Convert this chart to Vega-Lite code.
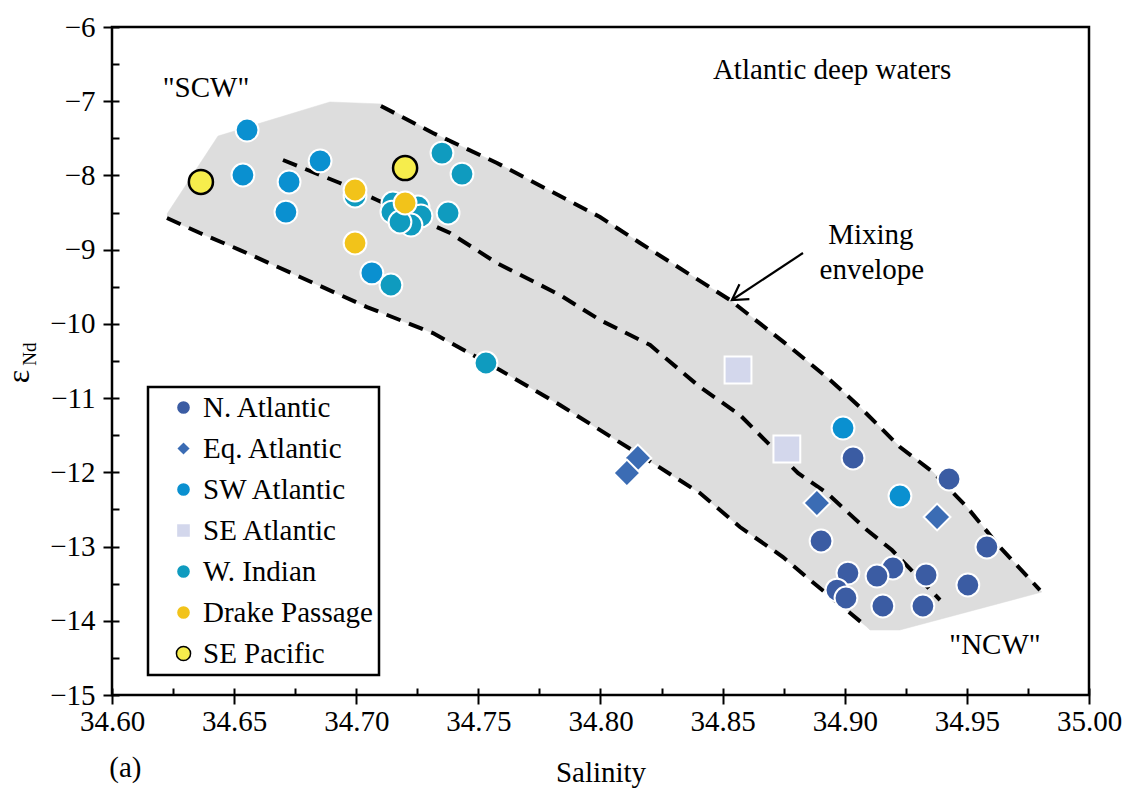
{
  "$schema": "https://vega.github.io/schema/vega-lite/v6.json",
  "width": 977,
  "height": 668,
  "autosize": {"type": "none"},
  "padding": {"left": 112, "top": 27, "right": 40, "bottom": 95},
  "background": "white",
  "config": {
    "view": {"stroke": "black", "strokeWidth": 2.5},
    "font": "Liberation Serif",
    "axis": {"labelFont": "Liberation Serif", "titleFont": "Liberation Serif"},
    "legend": {"strokeWidth": 2.5, "labelFont": "Liberation Serif"}
  },
  "datasets": {
    "points": [
      {"region": "N. Atlantic", "x": 34.9034, "y": -11.807},
      {"region": "N. Atlantic", "x": 34.9427, "y": -12.090},
      {"region": "N. Atlantic", "x": 34.8903, "y": -12.925},
      {"region": "N. Atlantic", "x": 34.9582, "y": -13.006},
      {"region": "N. Atlantic", "x": 34.9013, "y": -13.357},
      {"region": "N. Atlantic", "x": 34.9197, "y": -13.289},
      {"region": "N. Atlantic", "x": 34.9132, "y": -13.397},
      {"region": "N. Atlantic", "x": 34.9333, "y": -13.383},
      {"region": "N. Atlantic", "x": 34.9504, "y": -13.518},
      {"region": "N. Atlantic", "x": 34.8968, "y": -13.586},
      {"region": "N. Atlantic", "x": 34.9005, "y": -13.693},
      {"region": "N. Atlantic", "x": 34.9156, "y": -13.801},
      {"region": "N. Atlantic", "x": 34.9320, "y": -13.801},
      {"region": "Eq. Atlantic", "x": 34.8153, "y": -11.807},
      {"region": "Eq. Atlantic", "x": 34.8108, "y": -12.009},
      {"region": "Eq. Atlantic", "x": 34.8886, "y": -12.413},
      {"region": "Eq. Atlantic", "x": 34.9378, "y": -12.602},
      {"region": "SW Atlantic", "x": 34.6553, "y": -7.388},
      {"region": "SW Atlantic", "x": 34.6536, "y": -7.994},
      {"region": "SW Atlantic", "x": 34.6725, "y": -8.088},
      {"region": "SW Atlantic", "x": 34.6712, "y": -8.493},
      {"region": "SW Atlantic", "x": 34.6852, "y": -7.805},
      {"region": "SW Atlantic", "x": 34.7064, "y": -9.314},
      {"region": "SW Atlantic", "x": 34.8993, "y": -11.403},
      {"region": "SW Atlantic", "x": 34.9226, "y": -12.319},
      {"region": "SE Atlantic", "x": 34.8563, "y": -10.621},
      {"region": "SE Atlantic", "x": 34.8763, "y": -11.686},
      {"region": "W. Indian", "x": 34.6995, "y": -8.277},
      {"region": "W. Indian", "x": 34.7142, "y": -9.476},
      {"region": "W. Indian", "x": 34.7150, "y": -8.371},
      {"region": "W. Indian", "x": 34.7146, "y": -8.493},
      {"region": "W. Indian", "x": 34.7253, "y": -8.425},
      {"region": "W. Indian", "x": 34.7265, "y": -8.546},
      {"region": "W. Indian", "x": 34.7224, "y": -8.668},
      {"region": "W. Indian", "x": 34.7179, "y": -8.627},
      {"region": "W. Indian", "x": 34.7376, "y": -8.506},
      {"region": "W. Indian", "x": 34.7351, "y": -7.698},
      {"region": "W. Indian", "x": 34.7433, "y": -7.981},
      {"region": "W. Indian", "x": 34.7531, "y": -10.527},
      {"region": "Drake Passage", "x": 34.6995, "y": -8.196},
      {"region": "Drake Passage", "x": 34.6995, "y": -8.910},
      {"region": "Drake Passage", "x": 34.7200, "y": -8.371},
      {"region": "SE Pacific", "x": 34.6364, "y": -8.088},
      {"region": "SE Pacific", "x": 34.7200, "y": -7.900}
    ],
    "envelope": [
      {"i": 1, "x": 34.6225, "y": -8.520},
      {"i": 2, "x": 34.6434, "y": -7.469},
      {"i": 3, "x": 34.6892, "y": -7.010},
      {"i": 4, "x": 34.7101, "y": -7.037},
      {"i": 5, "x": 34.7314, "y": -7.428},
      {"i": 6, "x": 34.7576, "y": -7.832},
      {"i": 7, "x": 34.7998, "y": -8.560},
      {"i": 8, "x": 34.8162, "y": -8.910},
      {"i": 9, "x": 34.8530, "y": -9.678},
      {"i": 10, "x": 34.8776, "y": -10.312},
      {"i": 11, "x": 34.8940, "y": -10.756},
      {"i": 12, "x": 34.9062, "y": -11.120},
      {"i": 13, "x": 34.9226, "y": -11.659},
      {"i": 14, "x": 34.9361, "y": -11.996},
      {"i": 15, "x": 34.9500, "y": -12.467},
      {"i": 16, "x": 34.9635, "y": -13.006},
      {"i": 17, "x": 34.9807, "y": -13.613},
      {"i": 18, "x": 34.9226, "y": -14.124},
      {"i": 19, "x": 34.9103, "y": -14.124},
      {"i": 20, "x": 34.9091, "y": -14.084},
      {"i": 21, "x": 34.8858, "y": -13.451},
      {"i": 22, "x": 34.8747, "y": -13.141},
      {"i": 23, "x": 34.8571, "y": -12.737},
      {"i": 24, "x": 34.8407, "y": -12.279},
      {"i": 25, "x": 34.8162, "y": -11.767},
      {"i": 26, "x": 34.7834, "y": -11.093},
      {"i": 27, "x": 34.7588, "y": -10.621},
      {"i": 28, "x": 34.7314, "y": -10.123},
      {"i": 29, "x": 34.7044, "y": -9.773},
      {"i": 30, "x": 34.6770, "y": -9.368},
      {"i": 31, "x": 34.6524, "y": -9.005},
      {"i": 32, "x": 34.6360, "y": -8.776},
      {"i": 33, "x": 34.6225, "y": -8.574}
    ],
    "lines": [
      {"line": "upper", "i": 1, "x": 34.7101, "y": -7.064},
      {"line": "upper", "i": 2, "x": 34.7314, "y": -7.428},
      {"line": "upper", "i": 3, "x": 34.7576, "y": -7.832},
      {"line": "upper", "i": 4, "x": 34.7998, "y": -8.560},
      {"line": "upper", "i": 5, "x": 34.8162, "y": -8.910},
      {"line": "upper", "i": 6, "x": 34.8530, "y": -9.678},
      {"line": "upper", "i": 7, "x": 34.8776, "y": -10.312},
      {"line": "upper", "i": 8, "x": 34.8940, "y": -10.756},
      {"line": "upper", "i": 9, "x": 34.9062, "y": -11.120},
      {"line": "upper", "i": 10, "x": 34.9226, "y": -11.659},
      {"line": "upper", "i": 11, "x": 34.9361, "y": -11.996},
      {"line": "upper", "i": 12, "x": 34.9500, "y": -12.467},
      {"line": "upper", "i": 13, "x": 34.9635, "y": -13.006},
      {"line": "upper", "i": 14, "x": 34.9799, "y": -13.586},
      {"line": "middle", "i": 1, "x": 34.6700, "y": -7.792},
      {"line": "middle", "i": 2, "x": 34.6933, "y": -8.102},
      {"line": "middle", "i": 3, "x": 34.7085, "y": -8.331},
      {"line": "middle", "i": 4, "x": 34.7384, "y": -8.776},
      {"line": "middle", "i": 5, "x": 34.7576, "y": -9.180},
      {"line": "middle", "i": 6, "x": 34.7834, "y": -9.611},
      {"line": "middle", "i": 7, "x": 34.7998, "y": -9.948},
      {"line": "middle", "i": 8, "x": 34.8203, "y": -10.285},
      {"line": "middle", "i": 9, "x": 34.8407, "y": -10.850},
      {"line": "middle", "i": 10, "x": 34.8571, "y": -11.228},
      {"line": "middle", "i": 11, "x": 34.8808, "y": -12.009},
      {"line": "middle", "i": 12, "x": 34.8927, "y": -12.279},
      {"line": "middle", "i": 13, "x": 34.9091, "y": -12.777},
      {"line": "middle", "i": 14, "x": 34.9193, "y": -13.047},
      {"line": "middle", "i": 15, "x": 34.9390, "y": -13.720},
      {"line": "lower", "i": 1, "x": 34.6225, "y": -8.574},
      {"line": "lower", "i": 2, "x": 34.6360, "y": -8.776},
      {"line": "lower", "i": 3, "x": 34.6524, "y": -9.005},
      {"line": "lower", "i": 4, "x": 34.6770, "y": -9.368},
      {"line": "lower", "i": 5, "x": 34.7044, "y": -9.773},
      {"line": "lower", "i": 6, "x": 34.7314, "y": -10.123},
      {"line": "lower", "i": 7, "x": 34.7588, "y": -10.621},
      {"line": "lower", "i": 8, "x": 34.7834, "y": -11.093},
      {"line": "lower", "i": 9, "x": 34.8162, "y": -11.767},
      {"line": "lower", "i": 10, "x": 34.8407, "y": -12.279},
      {"line": "lower", "i": 11, "x": 34.8571, "y": -12.737},
      {"line": "lower", "i": 12, "x": 34.8747, "y": -13.141},
      {"line": "lower", "i": 13, "x": 34.8858, "y": -13.451},
      {"line": "lower", "i": 14, "x": 34.9091, "y": -14.084}
    ],
    "labels": [
      {"label": "\"SCW\"", "x": 34.6385, "y": -6.822},
      {"label": "Atlantic deep waters", "x": 34.8948, "y": -6.580},
      {"label": "Mixing", "x": 34.9107, "y": -8.802},
      {"label": "envelope", "x": 34.9111, "y": -9.274},
      {"label": "\"NCW\"", "x": 34.9615, "y": -14.327},
      {"label": "(a)", "x": 34.6055, "y": -15.99}
    ],
    "subscript": [
      {"label": "Nd", "x": 34.5664, "y": -10.406}
    ],
    "arrow": [
      {"x": 34.8829, "y": -9.045, "x2": 34.8538, "y2": -9.678}
    ]
  },
  "resolve": {"axis": {"x": "independent", "y": "independent"}},
  "layer": [
    {
      "data": {"name": "envelope"},
      "mark": {"type": "line", "fill": "#dddddd", "stroke": "#dddddd", "strokeWidth": 0.5},
      "encoding": {
        "x": {"field": "x", "type": "quantitative", "scale": {"domain": [34.6, 35.0], "nice": false, "zero": false},
          "axis": {"orient": "bottom", "values": [34.6, 34.625, 34.65, 34.675, 34.7, 34.725, 34.75, 34.775, 34.8, 34.825, 34.85, 34.875, 34.9, 34.925, 34.95, 34.975, 35.0],
            "tickSize": -7, "tickWidth": 2, "tickColor": "black", "labels": false, "domain": false, "grid": false, "title": null}},
        "y": {"field": "y", "type": "quantitative", "scale": {"domain": [-15, -6], "nice": false, "zero": false},
          "axis": {"orient": "left", "values": [-15, -14.5, -14, -13.5, -13, -12.5, -12, -11.5, -11, -10.5, -10, -9.5, -9, -8.5, -8, -7.5, -7, -6.5, -6],
            "tickSize": -7, "tickWidth": 2, "tickColor": "black", "labels": false, "domain": false, "grid": false, "title": null}},
        "order": {"field": "i", "type": "quantitative"}
      }
    },
    {
      "data": {"name": "lines"},
      "mark": {"type": "line", "stroke": "black", "strokeWidth": 4, "strokeDash": [15, 9], "strokeCap": "butt"},
      "encoding": {
        "x": {"field": "x", "type": "quantitative", "scale": {"domain": [34.6, 35.0], "nice": false, "zero": false}, "axis": null},
        "y": {"field": "y", "type": "quantitative", "scale": {"domain": [-15, -6], "nice": false, "zero": false}, "axis": null},
        "detail": {"field": "line"},
        "order": {"field": "i", "type": "quantitative"}
      }
    },
    {
      "data": {"name": "arrow"},
      "mark": {"type": "rule", "stroke": "black", "strokeWidth": 2.2},
      "encoding": {
        "x": {"field": "x", "type": "quantitative", "axis": null},
        "y": {"field": "y", "type": "quantitative", "axis": null},
        "x2": {"field": "x2"},
        "y2": {"field": "y2"}
      }
    },
    {
      "data": {"name": "arrow"},
      "mark": {"type": "point", "shape": "M-1,-0.6L0,0L-1,0.6", "filled": false, "stroke": "black", "strokeWidth": 2.2, "size": 900, "angle": 146.5, "opacity": 1},
      "encoding": {
        "x": {"field": "x2", "type": "quantitative", "axis": null},
        "y": {"field": "y2", "type": "quantitative", "axis": null}
      }
    },
    {
      "data": {"name": "points"},
      "mark": {"type": "point", "filled": true, "opacity": 1},
      "encoding": {
        "x": {"field": "x", "type": "quantitative", "scale": {"domain": [34.6, 35.0], "nice": false, "zero": false},
          "axis": {"orient": "bottom", "values": [34.6, 34.65, 34.7, 34.75, 34.8, 34.85, 34.9, 34.95, 35.0], "format": ".2f",
            "tickSize": 9, "tickWidth": 2, "tickColor": "black", "domain": false, "grid": false,
            "labelFont": "Liberation Serif", "labelFontSize": 29, "labelColor": "black", "labelPadding": 3, "labelFlush": false, "labelOverlap": false,
            "title": "Salinity", "titleFont": "Liberation Serif", "titleFontSize": 29, "titleFontWeight": "normal", "titleColor": "black", "titlePadding": 22}},
        "y": {"field": "y", "type": "quantitative", "scale": {"domain": [-15, -6], "nice": false, "zero": false},
          "axis": {"orient": "left", "values": [-15, -14, -13, -12, -11, -10, -9, -8, -7, -6], "format": "d",
            "tickSize": 9, "tickWidth": 2, "tickColor": "black", "domain": false, "grid": false,
            "labelFont": "Liberation Serif", "labelFontSize": 29, "labelColor": "black", "labelPadding": 8, "labelFlush": false, "labelOverlap": false,
            "title": "ε", "titleFont": "Liberation Serif", "titleFontSize": 32, "titleFontWeight": "normal", "titleColor": "black", "titlePadding": 14, "titleY": 349}},
        "fill": {"field": "region", "type": "nominal",
          "scale": {"domain": ["N. Atlantic", "Eq. Atlantic", "SW Atlantic", "SE Atlantic", "W. Indian", "Drake Passage", "SE Pacific"],
            "range": ["#3b5ca3", "#3b6cb4", "#0a90d0", "#d3d7ec", "#0f9bbf", "#f2c31a", "#f6ed4c"]},
          "legend": {"title": null, "orient": "none", "legendX": 36, "legendY": 360, "direction": "vertical",
            "fillColor": "white", "strokeColor": "black", "padding": 6,
            "symbolSize": 200, "symbolStrokeColor": "black", "symbolStrokeWidth": 1.5, "symbolOffset": 15,
            "labelFont": "Liberation Serif", "labelFontSize": 29, "labelColor": "black", "labelLimit": 400, "labelOffset": 5, "rowPadding": 11}},
        "shape": {"field": "region", "type": "nominal",
          "scale": {"domain": ["N. Atlantic", "Eq. Atlantic", "SW Atlantic", "SE Atlantic", "W. Indian", "Drake Passage", "SE Pacific"],
            "range": ["circle", "diamond", "circle", "square", "circle", "circle", "circle"]},
          "legend": {"title": null, "orient": "none", "legendX": 36, "legendY": 360, "direction": "vertical",
            "fillColor": "white", "strokeColor": "black", "padding": 6,
            "symbolSize": 200, "symbolStrokeColor": "black", "symbolStrokeWidth": 1.5, "symbolOffset": 15,
            "labelFont": "Liberation Serif", "labelFontSize": 29, "labelColor": "black", "labelLimit": 400, "labelOffset": 5, "rowPadding": 11}},
        "stroke": {"field": "region", "type": "nominal",
          "scale": {"domain": ["N. Atlantic", "Eq. Atlantic", "SW Atlantic", "SE Atlantic", "W. Indian", "Drake Passage", "SE Pacific"],
            "range": ["white", "white", "white", "white", "white", "white", "black"]},
          "legend": null},
        "strokeWidth": {"condition": {"test": "datum.region === 'SE Pacific'", "value": 2.5}, "value": 2},
        "size": {"condition": [{"test": "datum.region === 'SE Atlantic' || datum.region === 'Eq. Atlantic'", "value": 720}, {"test": "datum.region === 'SE Pacific'", "value": 580}], "value": 520}
      }
    },
    {
      "data": {"name": "labels"},
      "mark": {"type": "text", "font": "Liberation Serif", "fontSize": 29, "color": "black", "align": "center", "baseline": "middle"},
      "encoding": {
        "x": {"field": "x", "type": "quantitative", "axis": null},
        "y": {"field": "y", "type": "quantitative", "axis": null},
        "text": {"field": "label"}
      }
    },
    {
      "data": {"name": "subscript"},
      "mark": {"type": "text", "font": "Liberation Serif", "fontSize": 19, "color": "black", "align": "center", "baseline": "middle", "angle": 270},
      "encoding": {
        "x": {"field": "x", "type": "quantitative", "axis": null},
        "y": {"field": "y", "type": "quantitative", "axis": null},
        "text": {"field": "label"}
      }
    }
  ]
}
